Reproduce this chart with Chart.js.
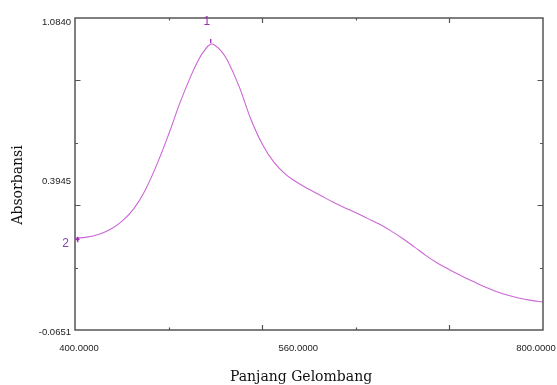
<!DOCTYPE html>
<html>
<head>
<meta charset="utf-8">
<script src="https://cdn.jsdelivr.net/npm/chart.js@4/dist/chart.umd.min.js"></script>
<style>
html,body{margin:0;padding:0;background:#fff;}
#wrap{width:557px;height:385px;position:relative;}
</style>
</head>
<body>
<div id="wrap"><canvas id="c" width="557" height="385"></canvas></div>
<script>
// ---- data ----
const wavelengths = [400,410,420,430,440,450,460,470,480,490,500,505,510,516,520,525,530,540,550,560,570,580,590,600,610,620,630,640,650,660,670,680,690,700,710,720,730,740,750,760,770,780,790,800];
const absorbance  = [0.273,0.277,0.287,0.305,0.335,0.380,0.450,0.545,0.655,0.775,0.880,0.925,0.961,0.988,0.982,0.962,0.930,0.835,0.715,0.620,0.553,0.508,0.478,0.453,0.430,0.407,0.386,0.367,0.346,0.325,0.300,0.272,0.241,0.209,0.181,0.157,0.135,0.114,0.094,0.077,0.063,0.052,0.044,0.038];
const xTicks = [400,480,560,640,720,800];
const xTickLabels = ['400.0000','','560.0000','','','800.0000'];
const yTicks = [-0.0651,0.1647,0.3945,0.6243,0.8542,1.0840];
const yTickLabels = ['-0.0651','','0.3945','','','1.0840'];
const peakLabels = ['1','2'];
const peakX = [516,400.6];
const peakY = [0.988,0.273];
const xTitle = 'Panjang Gelombang';
const yTitle = 'Absorbansi';

// ---- style ----
const xMajor = [false,false,true,false,true,false];
const yMajor = [false,false,true,false,true,false];
const xLabelShift = [4,0,36,0,0,-7];
const yLabelShift = [2,0,-24,0,0,4];

const framePlugin = {
  id:'frame',
  afterDraw(chart){
    const ctx = chart.ctx, a = chart.chartArea;
    const xs = chart.scales.x, ys = chart.scales.y;
    ctx.save();
    ctx.strokeStyle = '#555';
    ctx.lineWidth = 1.5;
    ctx.strokeRect(a.left, a.top, a.right-a.left, a.bottom-a.top);
    ctx.lineWidth = 1.2;
    xTicks.forEach((v,i)=>{
      if(i===0||i===xTicks.length-1) return;
      const px = Math.round(xs.getPixelForValue(v))+0.5;
      const len = xMajor[i]?5:2.5;
      ctx.beginPath();
      ctx.moveTo(px,a.bottom); ctx.lineTo(px,a.bottom-len);
      ctx.moveTo(px,a.top); ctx.lineTo(px,a.top+len);
      ctx.stroke();
    });
    yTicks.forEach((v,i)=>{
      if(i===0||i===yTicks.length-1) return;
      const py = Math.round(ys.getPixelForValue(v))+0.5;
      const len = yMajor[i]?5.5:3;
      ctx.beginPath();
      ctx.moveTo(a.left,py); ctx.lineTo(a.left+len,py);
      ctx.moveTo(a.right,py); ctx.lineTo(a.right-len,py);
      ctx.stroke();
    });
    ctx.fillStyle = '#222';
    ctx.font = '9.5px "Liberation Sans", Arial, sans-serif';
    ctx.textBaseline = 'middle';
    ctx.textAlign = 'center';
    xTicks.forEach((v,i)=>{
      if(!xTickLabels[i]) return;
      ctx.fillText(xTickLabels[i], xs.getPixelForValue(v)+xLabelShift[i], a.bottom+18);
    });
    ctx.textAlign = 'right';
    yTicks.forEach((v,i)=>{
      if(!yTickLabels[i]) return;
      ctx.fillText(yTickLabels[i], a.left-4, ys.getPixelForValue(v)+yLabelShift[i]);
    });
    ctx.fillStyle = '#111';
    ctx.font = '14px "DejaVu Serif", "Liberation Serif", serif';
    ctx.textAlign = 'center';
    ctx.fillText(xTitle, 301, 377);
    ctx.save();
    ctx.translate(18,185);
    ctx.rotate(-Math.PI/2);
    ctx.fillText(yTitle, 0, 0);
    ctx.restore();
    peakLabels.forEach((lab,i)=>{
      const px = xs.getPixelForValue(peakX[i]);
      const py = ys.getPixelForValue(peakY[i]);
      ctx.strokeStyle = '#9a2fb0';
      ctx.fillStyle = '#9a2fb0';
      ctx.lineWidth = 1.3;
      ctx.font = '12px "Liberation Sans", Arial, sans-serif';
      ctx.textAlign='center';
      if(i===0){
        ctx.beginPath();
        ctx.moveTo(px, py-5); ctx.lineTo(px, py-1); ctx.stroke();
        ctx.fillText(lab, px-4, py-22);
      } else {
        ctx.beginPath();
        ctx.moveTo(px+2, py+4); ctx.lineTo(px+2, py); ctx.stroke();
        ctx.beginPath();
        ctx.moveTo(px+0.5, py+2); ctx.lineTo(px+2, py-0.5); ctx.lineTo(px+3.5, py+2); ctx.stroke();
        ctx.fillStyle = '#7a45b0';
        ctx.fillText(lab, px-10, py+5);
      }
    });
    ctx.restore();
  }
};

new Chart(document.getElementById('c'), {
  type:'line',
  data:{
    datasets:[{
      data: wavelengths.map((w,i)=>({x:w,y:absorbance[i]})),
      borderColor:'#cc66d6',
      borderWidth:1.1,
      pointRadius:0,
      fill:false,
      tension:0.4
    }]
  },
  options:{
    responsive:false,
    animation:false,
    events:[],
    layout:{padding:{left:75,top:18,right:14,bottom:55}},
    plugins:{legend:{display:false},tooltip:{enabled:false}},
    scales:{
      x:{type:'linear',min:400,max:800,display:false},
      y:{type:'linear',min:-0.0651,max:1.0840,display:false}
    }
  },
  plugins:[framePlugin]
});
</script>
</body>
</html>
